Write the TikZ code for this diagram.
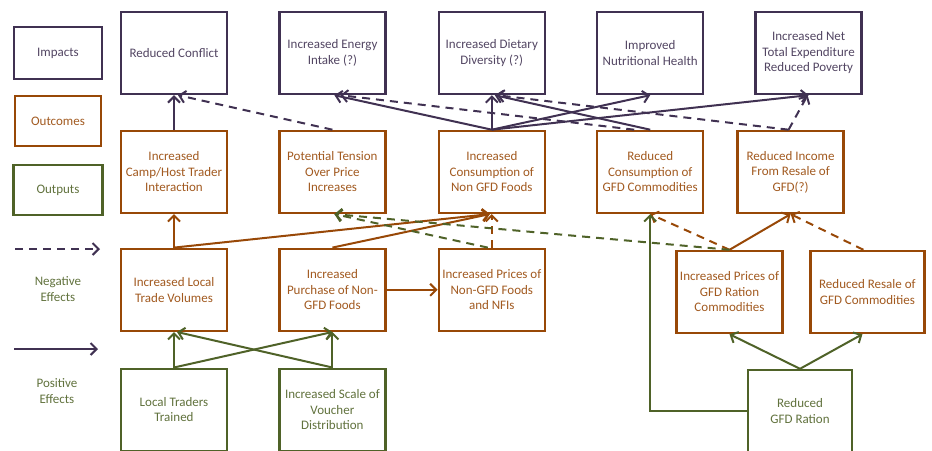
\documentclass[tikz,border=0pt]{standalone}
\usepackage{fontspec}
\setmainfont{Carlito}
\usepackage{xcolor}
\usetikzlibrary{arrows.meta,positioning,calc}
\definecolor{impactcol}{RGB}{64,49,82}
\definecolor{outcomecol}{RGB}{152,72,7}
\definecolor{outputcol}{RGB}{79,98,40}

\begin{document}
\begin{tikzpicture}[x=1pt,y=-1pt,>={Straight Barb[length=6pt,width=12pt]},
	box/.style={rectangle,draw,line width=2.4pt,fill=white,align=center,inner sep=2pt,
		font=\fontsize{13}{15.5}\selectfont, minimum width=106pt, minimum height=82pt},
	impact node/.style={box,draw=impactcol,text=impactcol!90},
	outcome node/.style={box,draw=outcomecol,text=outcomecol!90},
	output node/.style={box,draw=outputcol,text=outputcol!90},
	legend text/.style={align=center,text=outputcol!90,font=\fontsize{13}{15.5}\selectfont},
	pos arrow/.style={->,line width=2pt},
	neg arrow/.style={->,line width=2pt,dash pattern=on 8pt off 6pt}]

    \useasboundingbox (0,0) rectangle (932,450);

    % legend
    \node[impact node, minimum width=88pt, minimum height=52pt] (LI) at (58,53) {Impacts};
    \node[outcome node, minimum width=86pt, minimum height=50pt] (LO) at (58,121) {Outcomes};
    \node[output node, minimum width=89pt, minimum height=50pt] (LP) at (58,190) {Outputs};
    \coordinate (n1) at (15,249);
    \coordinate (n2) at (100,249);
    \draw[neg arrow, color=impactcol] (n1) -- (n2);
    \node[legend text] (NE) at (58,289) {Negative\\Effects};
    \coordinate (p1) at (14,349);
    \coordinate (p2) at (98,349);
    \draw[pos arrow, color=impactcol] (p1) -- (p2);
    \node[legend text] (PE) at (57,391) {Positive\\Effects};

    % impacts
    \node[impact node] (RC) at (174,53) {Reduced Conflict};
    \node[impact node, right=50pt of RC] (EI) {Increased Energy\\Intake (?)};
    \node[impact node, right=51pt of EI] (DD) {Increased Dietary\\Diversity (?)};
    \node[impact node, right=50pt of DD] (NH) {Improved\\Nutritional Health};
    \node[impact node, right=50pt of NH] (NET) {Increased Net\\Total Expenditure\\Reduced Poverty};

    % outcomes
    \node[outcome node, below=34.5pt of RC] (CHT) {Increased\\Camp/Host Trader\\Interaction};
    \node[outcome node, below=34.5pt of EI] (TEN) {Potential Tension\\Over Price\\Increases};
    \node[outcome node, below=34.5pt of DD] (NGF) {Increased\\Consumption of\\Non GFD Foods};
    \node[outcome node, below=34.5pt of NH] (RCG) {Reduced\\Consumption of\\GFD Commodities};
    \node[outcome node, right=32pt of RCG] (RI) {Reduced Income\\From Resale of\\GFD(?)};

    \node[outcome node, below=33.5pt of CHT] (LTV) {Increased Local\\Trade Volumes};
    \node[outcome node, below=33.5pt of TEN] (PUR) {Increased\\Purchase of Non-\\GFD Foods};
    \node[outcome node, below=33.5pt of NGF] (PNF) {Increased Prices of\\Non-GFD Foods\\and NFIs};
    \node[outcome node] (PGR) at (729.5,292) {Increased Prices of\\GFD Ration\\Commodities};
    \node[outcome node, minimum width=114pt, right=25.5pt of PGR] (RR) {Reduced Resale of\\GFD Commodities};

    % outputs
    \node[output node, below=35.5pt of LTV] (LT) {Local Traders\\Trained};
    \node[output node, below=35.5pt of PUR] (VS) {Increased Scale of\\Voucher\\Distribution};
    \node[output node, minimum width=104pt] (GR) at (800,411) {Reduced\\GFD Ration};

    % outcomes to impacts
    \path[pos arrow, color=impactcol]
    (CHT.north) edge (RC.south)
    (NGF.north) edge ([xshift=2pt]EI.south)
    (NGF.north) edge (DD.south)
    (NGF.north) edge (NH.south)
    (NGF.north) edge (NET.south)
    (RCG.north) edge ([xshift=3pt]DD.south);
    \path[neg arrow, color=impactcol]
    (TEN.north) edge ([xshift=4pt]RC.south)
    ([xshift=-16pt]RCG.north) edge ([xshift=8pt]EI.south)
    ([xshift=-2pt]RI.north) edge ([xshift=5pt]DD.south)
    ([xshift=-2pt]RI.north) edge ([xshift=-1pt]NET.south);

    % outcomes to outcomes
    \path[pos arrow, color=outcomecol]
    (LTV.north) edge (CHT.south)
    (LTV.north) edge ([xshift=-2pt]NGF.south)
    (PUR.north) edge ([xshift=-2pt]NGF.south)
    (PUR.east) edge (PNF.west)
    (PGR.north) edge (RI.south);
    \path[neg arrow, color=outcomecol]
    (PNF.north) edge (NGF.south)
    (PGR.north) edge (RCG.south)
    ([xshift=-4pt]RR.north) edge (RI.south);
    \path[neg arrow, color=outputcol]
    ([xshift=-4pt]PNF.north) edge ([xshift=2pt]TEN.south)
    (PGR.north) edge ([xshift=2pt]TEN.south);

    % outputs to outcomes
    \path[pos arrow, color=outputcol]
    (LT.north) edge (LTV.south)
    (LT.north) edge (PUR.south)
    (VS.north) edge ([xshift=3pt]LTV.south)
    (VS.north) edge (PUR.south)
    (GR.north) edge (PGR.south)
    (GR.north) edge ([xshift=-5pt]RR.south);
    \draw[pos arrow, color=outputcol] (GR.west) -| (RCG.south);

\end{tikzpicture}
\end{document}
